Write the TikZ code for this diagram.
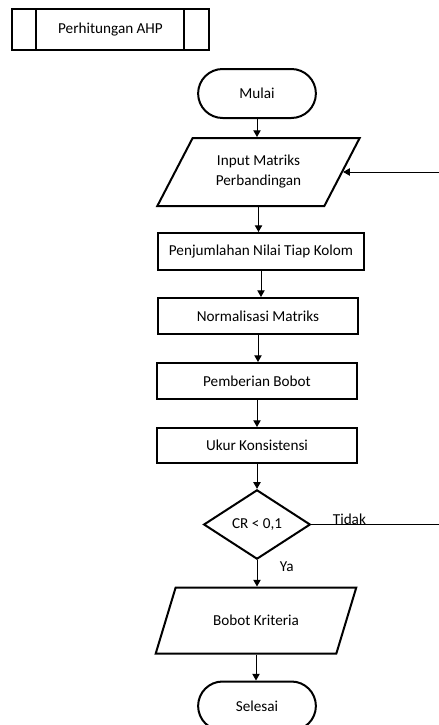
\documentclass[tikz,border=0pt]{standalone}
\usepackage{fontspec}
\setmainfont{Carlito}
\usetikzlibrary{arrows.meta,shapes.geometric,shapes.misc}

\begin{document}
\begin{tikzpicture}[x=0.75pt,y=-0.75pt,line width=0.75pt,>={Triangle[length=5pt,width=5.5pt]},
  font=\fontsize{11.4}{15}\selectfont,
  box/.style={draw,line width=1.5pt,minimum width=150pt,minimum height=27pt,inner sep=2pt},
  term/.style={draw,line width=1.5pt,rounded rectangle,minimum width=95pt,minimum height=36.75pt},
  io/.style={draw,line width=1.5pt,trapezium,trapezium left angle=59,trapezium right angle=121,
    trapezium stretches=true,minimum width=152pt,minimum height=51pt,align=center},
  dec/.style={draw,line width=1.5pt,diamond,minimum width=80pt,minimum height=52pt,inner sep=0pt}]
  \useasboundingbox (0,0) rectangle (439,725);
  % judul
  \node[box,minimum width=147.75pt,minimum height=30.75pt] (ahp) at (110.5,29.5){Perhitungan AHP};
  \draw[line width=1.5pt] ([xshift=18.75pt]ahp.north west)--([xshift=18.75pt]ahp.south west);
  \draw[line width=1.5pt] ([xshift=-19.5pt]ahp.north east)--([xshift=-19.5pt]ahp.south east);
  % alur
  \node[term] (mulai) at (257,93.5){Mulai};
  \node[io] (input) at (258.5,172){Input Matriks\\Perbandingan};
  \node[box,minimum width=154.5pt,minimum height=27.75pt] (jumlah) at (261,251.5){Penjumlahan Nilai Tiap Kolom};
  \node[box] (normal) at (258,316){Normalisasi Matriks};
  \node[box] (bobot) at (257,381){Pemberian Bobot};
  \node[box,minimum height=26.25pt] (ukur) at (257,445.5){Ukur Konsistensi};
  \node[dec] (cr) at (257,524.5){CR < 0,1};
  \node[io,minimum height=49.5pt,minimum width=151.5pt] (kriteria) at (256,620.5){Bobot Kriteria};
  \node[term] (selesai) at (257,706){Selesai};
  \coordinate (tepi) at (439,0);
  % panah
  \foreach \a/\b in {mulai/input,input/jumlah,jumlah/normal,normal/bobot,bobot/ukur,ukur/cr,kriteria/selesai}
    \draw[->] (\a.south)--(\a.south |- \b.north);
  \draw[->] (cr.south)--(cr.south |- kriteria.north) node[pos=0.25,right,xshift=13.5pt]{Ya};
  \draw (cr.east)--(cr.east -| tepi) node[pos=0.13,anchor=base west]{Tidak};
  \draw[->] (input.east -| tepi)--(input.east);
\end{tikzpicture}
\end{document}
